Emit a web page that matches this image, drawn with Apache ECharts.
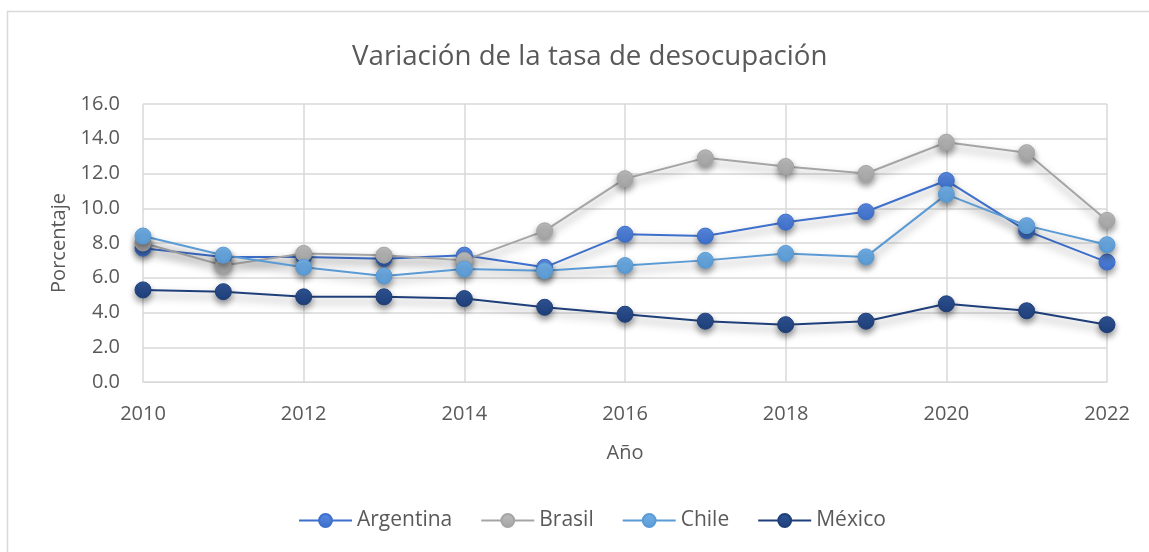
<!DOCTYPE html>
<html>
<head>
<meta charset="utf-8">
<script src="https://cdn.jsdelivr.net/npm/echarts@6/dist/echarts.min.js"></script>
<style>
  html, body { margin: 0; padding: 0; background: #fff; }
  #chart { width: 1149px; height: 552px; }
</style>
</head>
<body>
<div id="chart"></div>
<script>
// años (eje x)
var years = [2010, 2011, 2012, 2013, 2014, 2015, 2016, 2017, 2018, 2019, 2020, 2021, 2022];
// tasa de desocupación (%)
var argentina = [7.7, 7.2, 7.2, 7.1, 7.3, 6.6, 8.5, 8.4, 9.2, 9.8, 11.6, 8.7, 6.9];
var brasil    = [8.0, 6.7, 7.4, 7.3, 7.0, 8.7, 11.7, 12.9, 12.4, 12.0, 13.8, 13.2, 9.3];
var chile     = [8.4, 7.3, 6.6, 6.1, 6.5, 6.4, 6.7, 7.0, 7.4, 7.2, 10.8, 9.0, 7.9];
var mexico    = [5.3, 5.2, 4.9, 4.9, 4.8, 4.3, 3.9, 3.5, 3.3, 3.5, 4.5, 4.1, 3.3];
var yTicks = [0, 2, 4, 6, 8, 10, 12, 14, 16];

var font = 'Open Sans';
var txt = '#595959';

function pairs(vals) {
  return years.map(function (y, i) { return [y, vals[i]]; });
}

function serie(name, vals, color, light) {
  return {
    name: name,
    type: 'line',
    data: pairs(vals),
    symbol: 'circle',
    symbolSize: 16,
    lineStyle: {
      color: color, width: 2,
      shadowColor: 'rgba(0,0,0,0.45)', shadowBlur: 9, shadowOffsetY: 5
    },
    itemStyle: {
      color: new echarts.graphic.LinearGradient(0, 0, 0, 1, [
        { offset: 0, color: light },
        { offset: 1, color: color }
      ]),
      borderColor: color, borderWidth: 1,
      shadowColor: 'rgba(0,0,0,0.4)', shadowBlur: 6, shadowOffsetY: 4
    },
    emphasis: { disabled: true }
  };
}

var myChart = echarts.init(document.getElementById('chart'));
var option = {
  animation: false,
  backgroundColor: '#fff',
  graphic: [{
    type: 'rect',
    shape: { x: 7.5, y: 11.5, width: 1200, height: 600 },
    style: { fill: 'none', stroke: '#d9d9d9', lineWidth: 1.5 },
    z: -1
  }],
  title: {
    text: 'Variación de la tasa de desocupación',
    left: 347,
    top: 38,
    textStyle: { fontFamily: font, fontSize: 27.7, fontWeight: 'normal', color: txt }
  },
  legend: {
    bottom: 16,
    left: 293,
    itemWidth: 53,
    itemHeight: 16,
    itemGap: 28,
    textStyle: { fontFamily: font, fontSize: 21, color: txt },
    data: ['Argentina', 'Brasil', 'Chile', 'México']
  },
  grid: { left: 143, right: 42, top: 104, bottom: 170 },
  xAxis: {
    type: 'value',
    min: 2010, max: 2022, interval: 2,
    name: 'Año',
    nameLocation: 'middle',
    nameGap: 61,
    nameTextStyle: { fontFamily: font, fontSize: 20, color: txt },
    axisLine: { show: true, lineStyle: { color: '#d9d9d9' } },
    axisTick: { show: false },
    axisLabel: { fontFamily: font, fontSize: 20, color: txt, margin: 22, formatter: function (v) { return String(v); } },
    splitLine: { show: true, lineStyle: { color: '#d9d9d9', width: 1.5 } }
  },
  yAxis: {
    type: 'value',
    min: yTicks[0], max: yTicks[yTicks.length - 1], interval: 2,
    name: 'Porcentaje',
    nameLocation: 'middle',
    nameGap: 73,
    nameTextStyle: { fontFamily: font, fontSize: 20, color: txt },
    axisLine: { show: false },
    axisTick: { show: false },
    axisLabel: { fontFamily: font, fontSize: 20, color: txt, margin: 23, formatter: function (v) { return v.toFixed(1); } },
    splitLine: { show: true, lineStyle: { color: '#d9d9d9', width: 1.5 } }
  },
  series: [
    serie('Argentina', argentina, '#3d6fcc', '#5a8ae0'),
    serie('Brasil', brasil, '#a5a5a5', '#bdbdbd'),
    serie('Chile', chile, '#5b9bd5', '#72b0e6'),
    serie('México', mexico, '#1f3f7a', '#2f5596')
  ]
};
myChart.setOption(option);
</script>
</body>
</html>
